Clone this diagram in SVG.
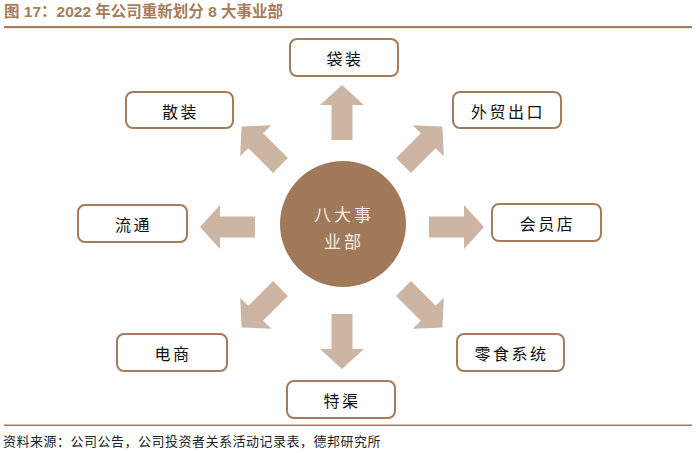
<svg xmlns="http://www.w3.org/2000/svg" width="700" height="453" viewBox="0 0 700 453">
<defs>
<style>
.box{fill:#fff;stroke:#A57C5B;stroke-width:2}
.lbl{font-family:"Noto Sans CJK SC","Noto Sans",sans-serif;font-size:16px;fill:#111;text-anchor:middle;dominant-baseline:central;letter-spacing:2.5px}
.arr{fill:#CDB5A3}
.title{font-family:"Liberation Sans","Noto Sans CJK SC",sans-serif;font-size:15.5px;font-weight:bold;fill:#A67C5A}
.src{font-family:"Noto Sans CJK SC",sans-serif;font-size:13px;fill:#222;letter-spacing:0.5px}
</style>
<polygon id="arrowShape" points="0,-10.5 35,-10.5 35,-22 55,0 35,22 35,10.5 0,10.5"/>
</defs>
<rect width="700" height="453" fill="#fff"/>
<text class="title" x="4" y="17">图 17：2022 年公司重新划分 8 大事业部</text>
<rect x="4" y="26" width="688" height="2.2" fill="#A67C5A"/>
<rect x="4" y="424.5" width="688" height="1.5" fill="#A67C5A"/>
<text class="src" x="3" y="446">资料来源：公司公告，公司投资者关系活动记录表，德邦研究所</text>

<g id="connectors" class="arr">
<use href="#arrowShape" transform="translate(342,227) rotate(-90) translate(87,0)"/>
<use href="#arrowShape" transform="translate(342,227) rotate(90) translate(87,0)"/>
<use href="#arrowShape" transform="translate(342,227) rotate(180) translate(87,0)"/>
<use href="#arrowShape" transform="translate(342,227) rotate(0) translate(87,0)"/>
<use href="#arrowShape" transform="translate(342,227) rotate(-45) translate(87,0)"/>
<use href="#arrowShape" transform="translate(342,227) rotate(45) translate(87,0)"/>
<use href="#arrowShape" transform="translate(342,227) rotate(135) translate(87,0)"/>
<use href="#arrowShape" transform="translate(342,227) rotate(-135) translate(87,0)"/>
</g>

<g id="center">
<circle cx="343" cy="224" r="63" fill="#A0785A"/>
<text class="lbl" x="344" y="213" style="fill:#F5EBE1;font-size:17px;letter-spacing:3px">八大事</text>
<text class="lbl" x="344" y="240" style="fill:#F5EBE1;font-size:17px;letter-spacing:3px">业部</text>
</g>

<g id="daizhuang"><rect class="box" x="290" y="39" width="108" height="37" rx="7"/><text class="lbl" x="345" y="58">袋装</text></g>
<g id="waimao"><rect class="box" x="453" y="92" width="108" height="36" rx="7"/><text class="lbl" x="508" y="110.5">外贸出口</text></g>
<g id="sanzhuang"><rect class="box" x="126" y="92" width="107" height="36" rx="7"/><text class="lbl" x="180.5" y="110.5">散装</text></g>
<g id="liutong"><rect class="box" x="78" y="205" width="109" height="37" rx="7"/><text class="lbl" x="133.5" y="224">流通</text></g>
<g id="huiyuandian"><rect class="box" x="492" y="204" width="109" height="37" rx="7"/><text class="lbl" x="547.5" y="223">会员店</text></g>
<g id="dianshang"><rect class="box" x="117" y="334" width="110" height="37" rx="7"/><text class="lbl" x="173" y="353">电商</text></g>
<g id="lingshi"><rect class="box" x="457" y="334" width="107" height="37" rx="7"/><text class="lbl" x="511.5" y="353">零食系统</text></g>
<g id="tequ"><rect class="box" x="287" y="381" width="108" height="37" rx="7"/><text class="lbl" x="342" y="400">特渠</text></g>
</svg>
